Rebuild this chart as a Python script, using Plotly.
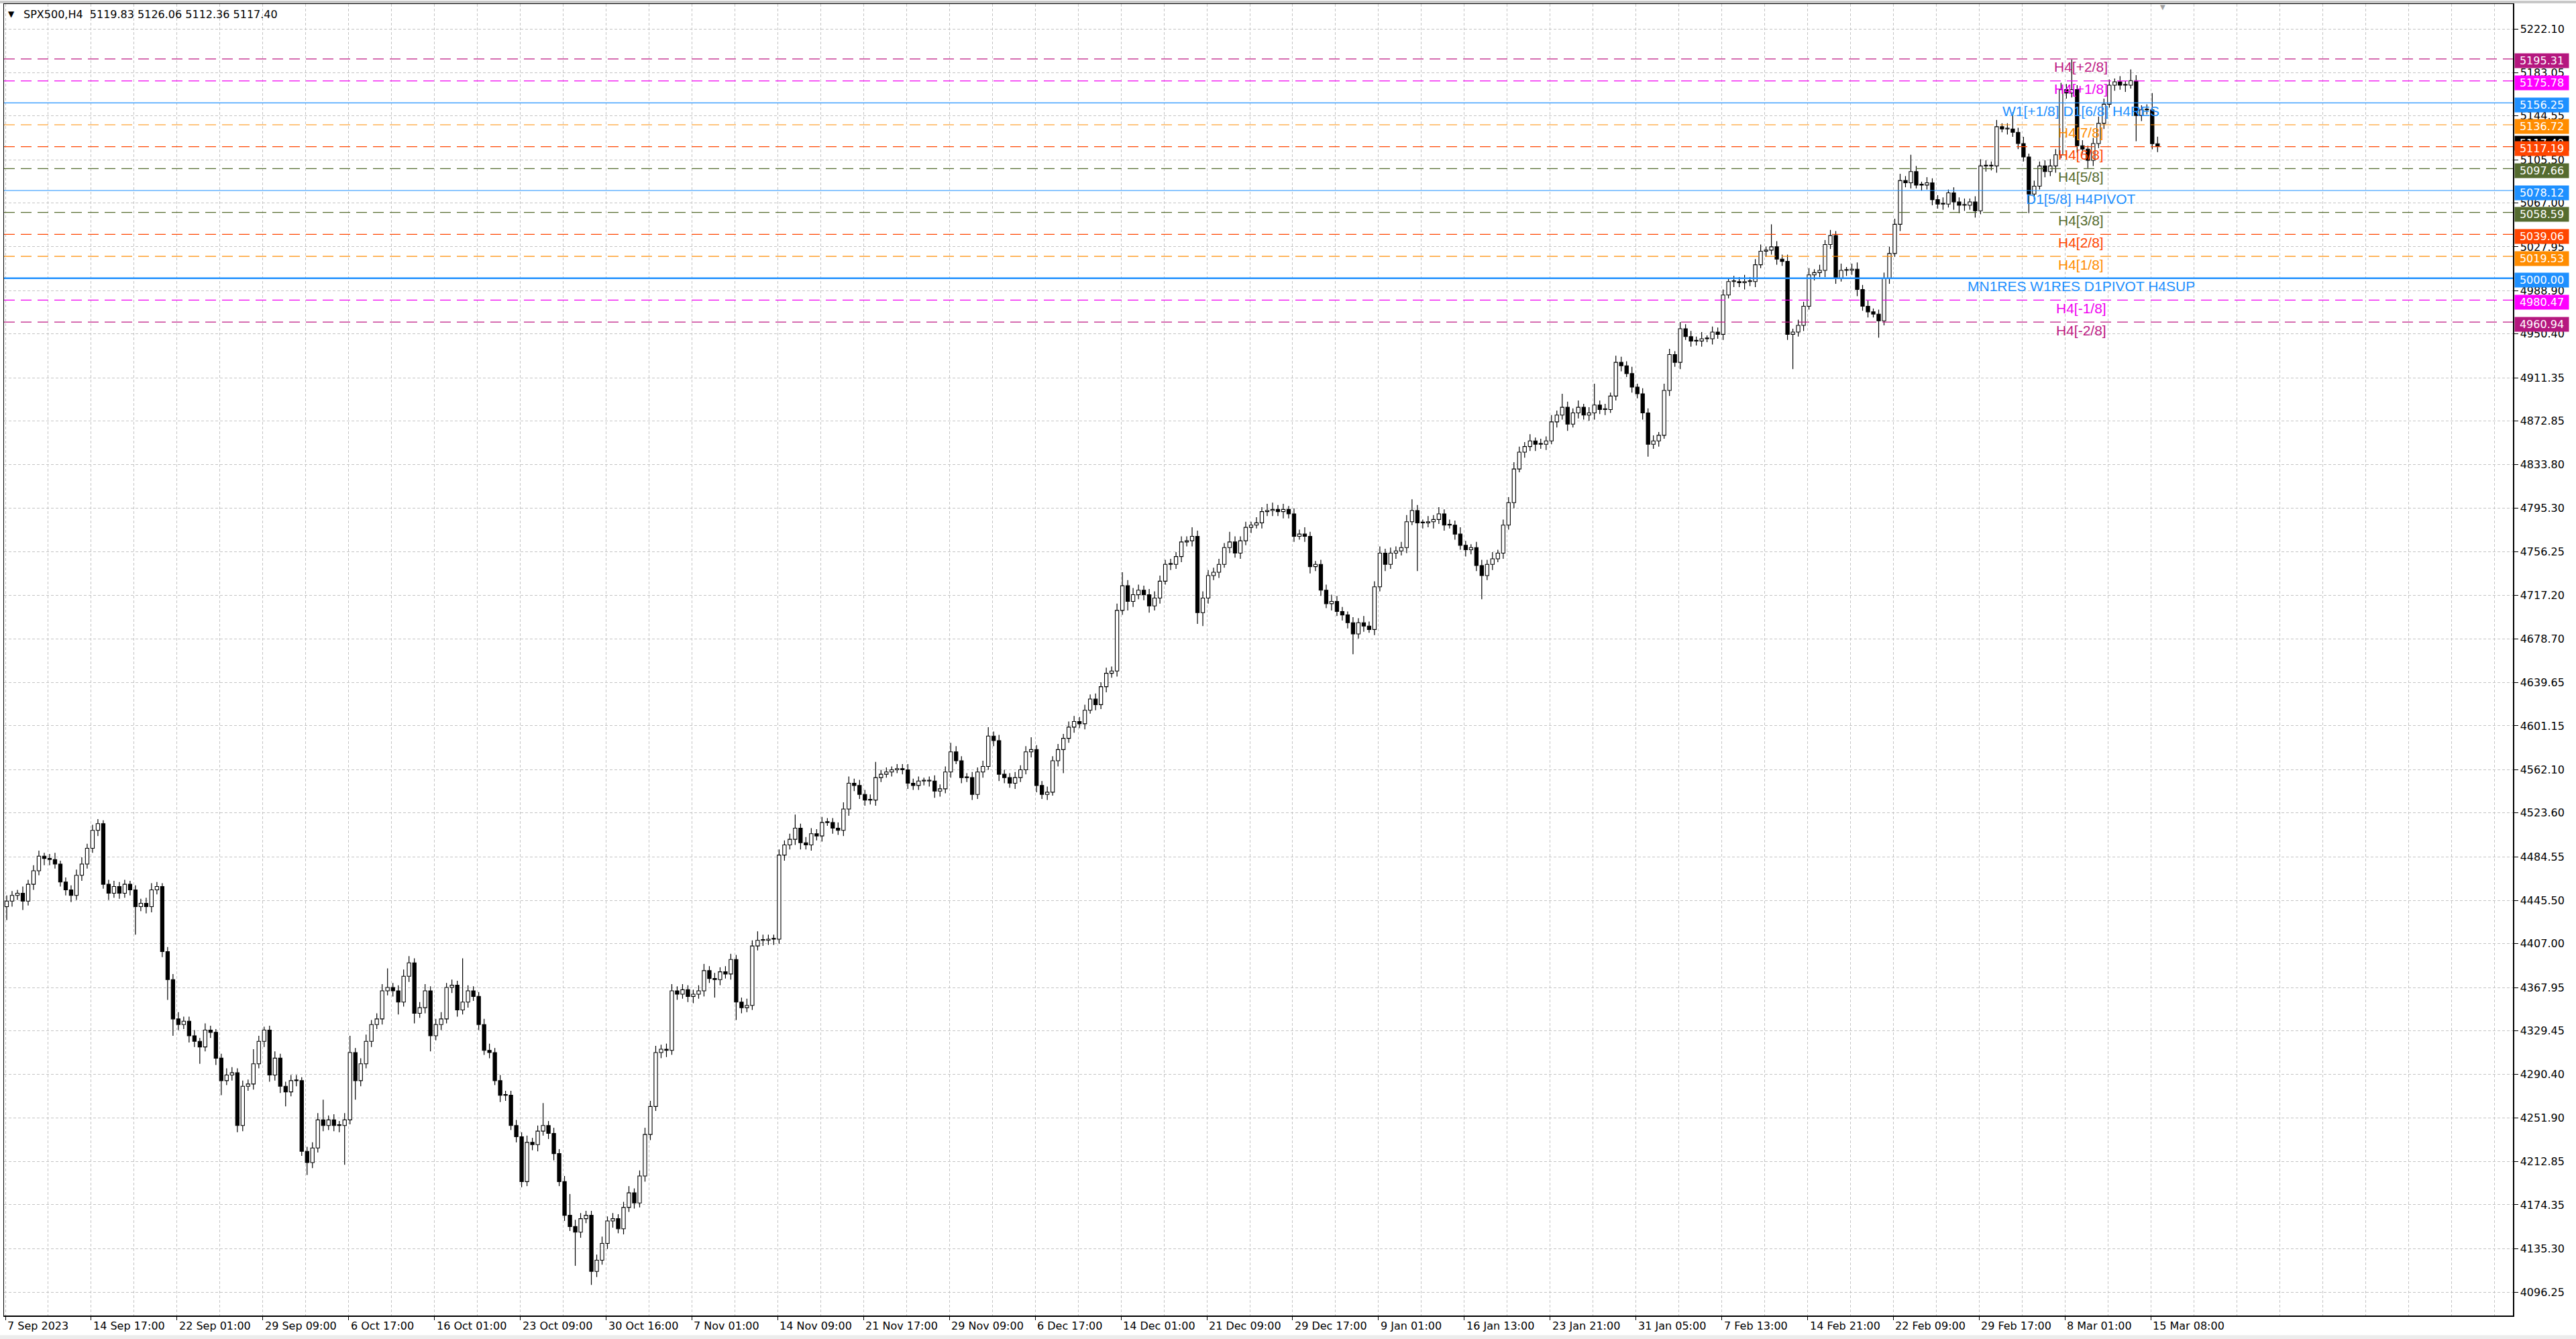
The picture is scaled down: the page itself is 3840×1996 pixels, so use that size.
import plotly.graph_objects as go

# ---------------- data ----------------
FIRST_OPEN = 4440.0
# closes of 2-bar (8h) candles, oldest first; last two = last bars of the chart
CLOSE = [
    4445, 4450, 4452, 4445, 4460, 4472, 4485, 4483, 4482, 4478,
    4462, 4455, 4450, 4468, 4478, 4492, 4508, 4514, 4460, 4452,
    4458, 4452, 4460, 4455, 4440, 4443, 4440, 4455, 4458, 4400,
    4375, 4340, 4335, 4338, 4325, 4320, 4315, 4330, 4328, 4305,
    4285, 4290, 4292, 4245, 4280, 4282, 4300, 4320, 4330, 4290,
    4305, 4280, 4275, 4285, 4285, 4222, 4212, 4225, 4250, 4245,
    4250, 4245, 4245, 4250, 4310, 4285, 4300, 4320, 4335, 4340,
    4365, 4368, 4365, 4355, 4378, 4390, 4345, 4350, 4365, 4325,
    4335, 4340, 4368, 4370, 4348, 4355, 4365, 4360, 4335, 4312,
    4310, 4285, 4272, 4272, 4245, 4235, 4195, 4230, 4228, 4240,
    4245, 4238, 4220, 4195, 4165, 4155, 4150, 4162, 4165, 4115,
    4125, 4140, 4160, 4162, 4153, 4172, 4185, 4176, 4200, 4237,
    4262, 4310, 4313, 4312, 4365, 4362, 4366, 4360, 4362, 4365,
    4383, 4376, 4375, 4382, 4380, 4393, 4355, 4350, 4352, 4405,
    4410, 4410, 4411, 4411, 4486, 4495, 4500, 4510, 4497, 4495,
    4505, 4503, 4515, 4515, 4510, 4508, 4527, 4550, 4548, 4540,
    4535, 4535, 4555, 4558, 4560, 4562, 4563, 4562, 4550, 4548,
    4552, 4552, 4552, 4543, 4545, 4560, 4578, 4570, 4555, 4555,
    4540, 4560, 4565, 4592, 4588, 4558, 4555, 4550, 4555, 4562,
    4578, 4580, 4548, 4540, 4542, 4570, 4580, 4590, 4600, 4605,
    4603, 4615, 4625, 4620, 4636, 4648, 4650, 4704, 4726, 4712,
    4718, 4722, 4718, 4708, 4715, 4730, 4745, 4745, 4752, 4765,
    4766, 4770, 4702, 4715, 4735, 4738, 4745, 4760, 4765, 4755,
    4766, 4778, 4780, 4782, 4792, 4793, 4794, 4792, 4794, 4790,
    4770, 4772, 4770, 4743, 4745, 4722, 4710, 4712, 4703, 4700,
    4693, 4683, 4693, 4690, 4687, 4725, 4755, 4745, 4755, 4757,
    4760, 4783, 4793, 4782, 4782, 4783, 4785, 4790, 4780, 4780,
    4772, 4762, 4758, 4760, 4744, 4735, 4745, 4750, 4755, 4780,
    4800, 4830, 4845, 4850, 4855, 4852, 4852, 4855, 4872, 4878,
    4885, 4870, 4880, 4885, 4878, 4880, 4887, 4883, 4883, 4895,
    4925, 4922, 4915, 4903, 4897, 4880, 4852, 4855, 4860, 4900,
    4932, 4925, 4955, 4948, 4944, 4944, 4946, 4946, 4952, 4950,
    4985, 4997, 4997, 4996, 4997, 4997, 5012, 5024, 5025, 5028,
    5017, 5015, 4950, 4952, 4958, 4975, 5003, 5005, 5007, 5030,
    5038, 5000, 5007, 5007, 5008, 4990, 4975, 4970, 4968, 4962,
    5000, 5022, 5048, 5087, 5085, 5095, 5083, 5083, 5085, 5070,
    5066, 5066, 5076, 5068, 5065, 5065, 5068, 5060, 5100, 5100,
    5100, 5135, 5133, 5133, 5130, 5120, 5108, 5075, 5082, 5100,
    5095, 5100, 5110, 5168, 5165, 5168, 5118, 5115, 5105, 5120,
    5138, 5155, 5172, 5175, 5172, 5172, 5176, 5145, 5150, 5150,
    5119.83, 5117.40,
]
UPPER_WICK = [
    5, 4, 3, 6, 4, 5, 5, 3, 4, 6,
    3, 4, 4, 5, 6, 4, 5, 4, 3, 4,
    5, 4, 4, 3, 4, 4, 5, 6, 4, 3,
    4, 5, 6, 4, 4, 5, 3, 6, 4, 3,
    4, 6, 5, 4, 5, 4, 13, 5, 3, 4,
    6, 4, 4, 5, 5, 3, 4, 5, 6, 18,
    4, 5, 4, 6, 15, 4, 5, 6, 4, 5,
    6, 17, 4, 5, 6, 6, 4, 5, 6, 4,
    5, 6, 4, 5, 4, 39, 5, 4, 4, 5,
    6, 4, 5, 4, 4, 5, 4, 6, 4, 5,
    20, 4, 5, 4, 5, 19, 6, 5, 4, 4,
    5, 6, 4, 5, 4, 5, 6, 4, 5, 6,
    5, 6, 4, 5, 6, 4, 5, 4, 4, 5,
    6, 4, 5, 4, 5, 5, 4, 4, 6, 5,
    8, 5, 4, 4, 5, 4, 5, 12, 4, 5,
    5, 4, 5, 4, 4, 5, 6, 6, 4, 5,
    4, 5, 14, 4, 4, 3, 4, 4, 5, 4,
    4, 3, 4, 5, 4, 5, 8, 5, 4, 4,
    5, 4, 5, 8, 4, 5, 4, 4, 5, 4,
    5, 11, 4, 4, 5, 4, 5, 4, 5, 5,
    4, 5, 4, 5, 4, 5, 4, 6, 12, 5,
    6, 5, 4, 5, 6, 5, 4, 5, 4, 5,
    4, 8, 5, 6, 5, 4, 5, 4, 9, 5,
    4, 5, 3, 5, 4, 6, 6, 4, 5, 3,
    5, 4, 6, 4, 3, 4, 5, 6, 5, 4,
    3, 5, 4, 6, 4, 5, 6, 4, 5, 4,
    5, 6, 10, 5, 3, 5, 4, 6, 4, 5,
    4, 6, 4, 3, 5, 5, 4, 6, 3, 5,
    5, 6, 5, 4, 6, 3, 5, 4, 6, 4,
    12, 5, 4, 6, 3, 5, 19, 4, 5, 3,
    6, 5, 4, 6, 3, 5, 4, 5, 3, 6,
    5, 3, 6, 4, 5, 4, 6, 3, 5, 4,
    5, 3, 5, 4, 6, 4, 5, 6, 3, 20,
    5, 4, 6, 3, 5, 4, 6, 3, 5, 4,
    5, 4, 6, 3, 5, 6, 4, 5, 3, 4,
    5, 6, 5, 6, 4, 15, 5, 3, 5, 4,
    4, 6, 3, 5, 4, 6, 3, 5, 6, 5,
    4, 6, 3, 5, 15, 4, 6, 3, 5, 4,
    5, 6, 5, 6, 5, 27, 4, 5, 3, 5,
    6, 5, 5, 3, 5, 4, 10, 5, 4, 5,
    15, 6.23,
]
LOWER_WICK = [
    12, 5, 4, 8, 4, 5, 4, 6, 5, 4,
    4, 5, 6, 4, 5, 4, 4, 5, 4, 6,
    4, 5, 4, 5, 25, 4, 6, 5, 4, 5,
    18, 15, 5, 4, 6, 5, 15, 4, 5, 6,
    13, 4, 5, 6, 5, 4, 5, 4, 5, 6,
    5, 6, 13, 4, 5, 4, 11, 5, 4, 5,
    4, 5, 6, 35, 4, 17, 5, 4, 5, 4,
    5, 4, 5, 11, 4, 5, 9, 4, 5, 14,
    4, 5, 4, 5, 6, 4, 5, 4, 5, 4,
    5, 4, 6, 5, 4, 5, 5, 4, 5, 6,
    4, 5, 6, 4, 5, 4, 30, 5, 4, 12,
    5, 4, 5, 6, 4, 5, 4, 5, 4, 5,
    5, 4, 5, 6, 4, 5, 4, 5, 6, 4,
    5, 4, 16, 5, 4, 5, 16, 5, 4, 4,
    4, 5, 4, 5, 4, 5, 4, 5, 6, 4,
    5, 4, 5, 3, 5, 4, 5, 6, 5, 4,
    5, 4, 5, 4, 3, 4, 3, 4, 5, 4,
    4, 4, 5, 6, 5, 4, 5, 3, 5, 4,
    5, 4, 5, 3, 5, 6, 5, 4, 5, 4,
    4, 5, 6, 4, 5, 3, 5, 21, 4, 5,
    4, 5, 3, 5, 4, 5, 4, 5, 4, 8,
    5, 4, 5, 6, 4, 5, 3, 5, 4, 5,
    4, 5, 10, 12, 5, 4, 5, 3, 5, 4,
    5, 4, 5, 3, 5, 4, 5, 4, 6, 4,
    5, 3, 5, 6, 4, 5, 4, 6, 4, 5,
    5, 18, 4, 5, 3, 5, 4, 6, 4, 5,
    4, 5, 3, 43, 5, 4, 6, 4, 5, 3,
    5, 4, 6, 4, 5, 21, 4, 5, 3, 5,
    4, 5, 3, 5, 4, 6, 4, 5, 3, 5,
    4, 6, 3, 5, 4, 5, 6, 4, 5, 3,
    4, 5, 3, 5, 4, 6, 11, 4, 5, 3,
    5, 4, 6, 3, 5, 4, 5, 3, 5, 4,
    5, 3, 5, 4, 6, 4, 5, 3, 5, 4,
    5, 4, 5, 31, 4, 5, 3, 5, 4, 6,
    4, 5, 3, 5, 4, 6, 4, 5, 3, 15,
    4, 5, 3, 6, 4, 5, 3, 5, 4, 5,
    4, 5, 3, 7, 7, 5, 4, 6, 3, 5,
    4, 6, 3, 5, 4, 5, 4, 17, 5, 3,
    5, 4, 6, 3, 5, 4, 6, 4, 7, 5,
    4, 5, 3, 5, 4, 6, 3, 23, 5, 4,
    5, 5.04,
]

X_LABELS = ["7 Sep 2023", "14 Sep 17:00", "22 Sep 01:00", "29 Sep 09:00", "6 Oct 17:00",
            "16 Oct 01:00", "23 Oct 09:00", "30 Oct 16:00", "7 Nov 01:00", "14 Nov 09:00",
            "21 Nov 17:00", "29 Nov 09:00", "6 Dec 17:00", "14 Dec 01:00", "21 Dec 09:00",
            "29 Dec 17:00", "9 Jan 01:00", "16 Jan 13:00", "23 Jan 21:00", "31 Jan 05:00",
            "7 Feb 13:00", "14 Feb 21:00", "22 Feb 09:00", "29 Feb 17:00", "8 Mar 01:00",
            "15 Mar 08:00"]
BARS_PER_LABEL = 32   # H4 bars between time labels
BARS_PER_CANDLE = 2   # each drawn candle spans two H4 bars

Y_TICKS = [5222.10, 5183.05, 5144.55, 5105.50, 5067.00, 5027.95, 4988.90, 4950.40,
           4911.35, 4872.85, 4833.80, 4795.30, 4756.25, 4717.20, 4678.70, 4639.65,
           4601.15, 4562.10, 4523.60, 4484.55, 4445.50, 4407.00, 4367.95, 4329.45,
           4290.40, 4251.90, 4212.85, 4174.35, 4135.30, 4096.25]

LEVEL_PRICES = [5195.31, 5175.78, 5156.25, 5136.72, 5117.19, 5097.66, 5078.12,
                5058.59, 5039.06, 5019.53, 5000.00, 4980.47, 4960.94]
LEVEL_NAMES = ["H4[+2/8]", "H4[+1/8]", "W1[+1/8] D1[6/8] H4RES", "H4[7/8]", "H4[6/8]",
               "H4[5/8]", "D1[5/8] H4PIVOT", "H4[3/8]", "H4[2/8]", "H4[1/8]",
               "MN1RES W1RES D1PIVOT H4SUP", "H4[-1/8]", "H4[-2/8]"]
LEVEL_COLORS = ["#BE1A84", "#F000F0", "#1E90FF", "#FF8C00", "#FF4500", "#556B2F",
                "#1E90FF", "#556B2F", "#FF4500", "#FF8C00", "#1E90FF", "#F000F0", "#BE1A84"]
LEVEL_SOLID = [False, False, True, False, False, False, True,
               False, False, False, True, False, False]
BID = 5117.40
TITLE = "SPX500,H4  5119.83 5126.06 5112.36 5117.40"

# ---------------- build candles ----------------
n = min(len(CLOSE), len(UPPER_WICK), len(LOWER_WICK))
opens = [FIRST_OPEN] + CLOSE[:n - 1]
xs = [BARS_PER_CANDLE * k + 0.5 for k in range(n)]
tops = [max(opens[k], CLOSE[k]) for k in range(n)]
bots = [min(opens[k], CLOSE[k]) for k in range(n)]
highs = [tops[k] + UPPER_WICK[k] for k in range(n)]
lows = [bots[k] - LOWER_WICK[k] for k in range(n)]

wx, wy = [], []
for k in range(n):
    wx += [xs[k], xs[k], None, xs[k], xs[k], None]
    wy += [tops[k], highs[k], None, lows[k], bots[k], None]

body_h = [max(tops[k] - bots[k], 0.7) for k in range(n)]
body_c = ["white" if CLOSE[k] >= opens[k] else "black" for k in range(n)]

fig = go.Figure()
fig.add_trace(go.Scatter(x=wx, y=wy, mode="lines", line=dict(color="black", width=1.2),
                         hoverinfo="skip", showlegend=False))
fig.add_trace(go.Bar(x=xs, y=body_h, base=bots, width=1.3,
                     marker=dict(color=body_c, line=dict(color="black", width=1.1)),
                     showlegend=False, hoverinfo="skip"))

GRID = "#c4c4c4"
GRID_DASH = "4px,3px"
XMAX = 935.0

fig.update_layout(
    width=3840, height=1996,
    margin=dict(l=4, r=94, t=4, b=35),
    paper_bgcolor="white", plot_bgcolor="white",
    showlegend=False, bargap=0,
    font=dict(family="DejaVu Sans", size=16, color="black"),
)
fig.update_xaxes(
    range=[-0.5, XMAX], showline=True, mirror=True, linecolor="black", linewidth=1.5,
    tickmode="array", tickvals=[BARS_PER_LABEL * i for i in range(len(X_LABELS))],
    ticktext=[""] * len(X_LABELS), ticks="outside", ticklen=5, tickcolor="black",
    showgrid=True, gridcolor=GRID, griddash=GRID_DASH, gridwidth=1, zeroline=False,
    minor=dict(tickmode="linear", tick0=0, dtick=BARS_PER_LABEL // 2, showgrid=True,
               gridcolor=GRID, griddash=GRID_DASH, gridwidth=1, ticks=""),
    fixedrange=True,
)
fig.update_yaxes(
    range=[4075.7, 5244.3], side="right", tickmode="array", tickvals=Y_TICKS,
    ticktext=[f"{v:.2f}" for v in Y_TICKS], ticks="outside", ticklen=6, tickcolor="black",
    tickfont=dict(family="DejaVu Sans", size=16, color="black"),
    showgrid=True, gridcolor=GRID, griddash=GRID_DASH, gridwidth=1,
    showline=True, mirror=True, linecolor="black", linewidth=1.5, zeroline=False,
    fixedrange=True,
)

shapes = []
annotations = []

# level lines + labels
for p, name, col, solid in zip(LEVEL_PRICES, LEVEL_NAMES, LEVEL_COLORS, LEVEL_SOLID):
    width = 2.4 if p == 5000.00 else 1.2
    shapes.append(dict(type="line", xref="paper", x0=0, x1=1, yref="y", y0=p, y1=p,
                       line=dict(color=col, width=width, dash="solid" if solid else "16px,9px")))
    annotations.append(dict(x=774, xref="x", y=p, yref="y", text=name, showarrow=False,
                            xanchor="center", yanchor="middle", yshift=-12,
                            font=dict(family="Liberation Sans", size=21, color=col)))

# right-hand price boxes (bid box first, hidden behind the 5117.19 box)
annotations.append(dict(x=1, xref="paper", xanchor="left", xshift=2, y=BID, yref="y",
                        yanchor="middle", yshift=5, text=f"{BID:.2f}", showarrow=False,
                        bgcolor="black", width=80, height=21, borderpad=0,
                        font=dict(family="DejaVu Sans", size=16, color="white")))
for p, col in zip(LEVEL_PRICES, LEVEL_COLORS):
    box = "#FF00FF" if col == "#F000F0" else ("#B5177F" if col == "#BE1A84" else col)
    annotations.append(dict(x=1, xref="paper", xanchor="left", xshift=2, y=p, yref="y",
                            yanchor="middle", yshift=-3, text=f"{p:.2f}", showarrow=False,
                            bgcolor=box, width=80, height=21, borderpad=0,
                            font=dict(family="DejaVu Sans", size=16, color="white")))

# time labels (left aligned at their tick)
for i, lab in enumerate(X_LABELS):
    annotations.append(dict(x=BARS_PER_LABEL * i, xref="x", y=0, yref="paper", text=lab,
                            showarrow=False, xanchor="left", yanchor="top", xshift=1, yshift=-4,
                            font=dict(family="DejaVu Sans", size=16, color="black")))

# title
annotations.append(dict(x=0, xref="paper", y=1, yref="paper", text="▼", showarrow=False,
                        xanchor="left", yanchor="middle", xshift=4, yshift=-15,
                        font=dict(family="DejaVu Sans", size=12, color="black")))
annotations.append(dict(x=0, xref="paper", y=1, yref="paper", text=TITLE, showarrow=False,
                        xanchor="left", yanchor="middle", xshift=27, yshift=-15,
                        font=dict(family="DejaVu Sans", size=16, color="black")))
# chart shift marker
annotations.append(dict(x=BARS_PER_CANDLE * n + 0.5, xref="x", y=1, yref="paper", text="▼",
                        showarrow=False, xanchor="center", yanchor="top", yshift=3,
                        font=dict(family="DejaVu Sans", size=10, color="#a0a0a0")))

# window frame strips
shapes.append(dict(type="rect", xref="paper", yref="paper", x0=-0.002, x1=1.03,
                   y0=1.0005, y1=1.0025, fillcolor="#c8c8c8", line=dict(width=0), layer="below"))
shapes.append(dict(type="rect", xref="paper", yref="paper", x0=-0.002, x1=1.03,
                   y0=-0.0185, y1=-0.0150, fillcolor="#ececec", line=dict(width=0), layer="below"))

fig.update_layout(shapes=shapes, annotations=annotations)
fig.write_html("out.html", config={"displayModeBar": False, "staticPlot": True},
               post_script="document.body.style.margin='0px';document.body.style.overflow='hidden';")
